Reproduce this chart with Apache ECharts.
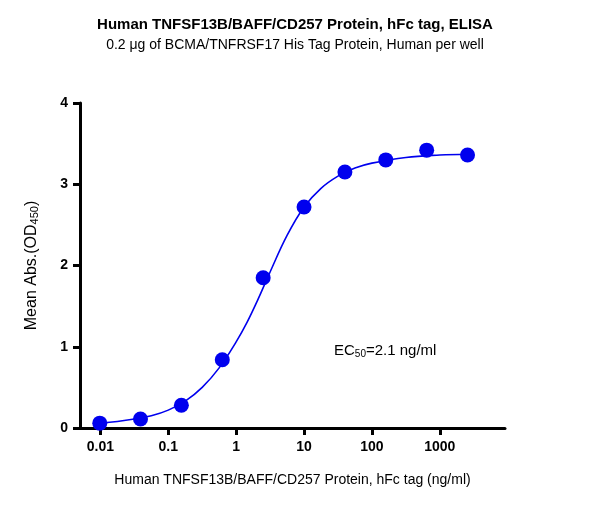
<!DOCTYPE html>
<html><head><meta charset="utf-8">
<script src="https://cdn.jsdelivr.net/npm/echarts@6/dist/echarts.min.js"></script>
<style>html,body{margin:0;padding:0;background:#fff}#c{width:590px;height:507px}</style>
</head><body><div id="c"></div>
<script>
const concentrations = [0.0098, 0.039, 0.156, 0.625, 2.5, 10, 40, 160, 640, 2560];
const absorbance = [0.06, 0.11, 0.28, 0.84, 1.85, 2.72, 3.15, 3.30, 3.42, 3.36];
const curveLogX = [-2.0, -1.75, -1.5, -1.25, -1.0, -0.75, -0.5, -0.25, 0, 0.16, 0.32, 0.5, 0.75, 1.0, 1.25, 1.5, 1.75, 2.0, 2.5, 3.0, 3.4];
const curveY = [0.06, 0.08, 0.11, 0.15, 0.22, 0.33, 0.5, 0.74, 1.06, 1.3, 1.58, 1.92, 2.37, 2.72, 2.95, 3.1, 3.2, 3.26, 3.33, 3.36, 3.37];
const xTicks = [0.01, 0.1, 1, 10, 100, 1000];
const yTicks = [0, 1, 2, 3, 4];
const F = 'Liberation Sans, Arial, sans-serif';
const chart = echarts.init(document.getElementById('c'));
chart.setOption({
  animation: false,
  title: [
    {text: 'Human TNFSF13B/BAFF/CD257 Protein, hFc tag, ELISA', left: 'center', top: 12,
     textStyle: {fontFamily: F, fontSize: 15, fontWeight: 'bold', color: '#000'}},
    {text: '0.2 μg of BCMA/TNFRSF17 His Tag Protein, Human per well', left: 'center', top: 33,
     textStyle: {fontFamily: F, fontSize: 14, fontWeight: 'normal', color: '#000'}}
  ],
  grid: {left: 80, right: 85, top: 103, bottom: 79},
  xAxis: {
    type: 'value', min: -2.3, max: 3.96,
    axisLine: {onZero: false, lineStyle: {color: '#000', width: 3}},
    axisTick: {length: 7, lineStyle: {color: '#000', width: 3}, customValues: xTicks.map(Math.log10)},
    axisLabel: {customValues: xTicks.map(Math.log10), formatter: v => String(xTicks.find(t => Math.abs(Math.log10(t) - v) < 1e-6)),
      color: '#000', fontFamily: F, fontSize: 14, fontWeight: 'bold', margin: 12},
    splitLine: {show: false},
    name: 'Human TNFSF13B/BAFF/CD257 Protein, hFc tag (ng/ml)', nameLocation: 'middle', nameGap: 45,
    nameTextStyle: {fontFamily: F, fontSize: 14, color: '#000'}
  },
  yAxis: {
    type: 'value', min: 0, max: 4, interval: 1,
    axisLine: {show: true, onZero: false, lineStyle: {color: '#000', width: 3}},
    axisTick: {show: true, length: 7, lineStyle: {color: '#000', width: 3}},
    axisLabel: {color: '#000', fontFamily: F, fontSize: 14, fontWeight: 'bold', margin: 12},
    splitLine: {show: false},
    name: '{a|Mean Abs.(OD}{s|450}{a|)}', nameLocation: 'middle', nameGap: 40,
    nameTextStyle: {rich: {a: {fontFamily: F, fontSize: 16, color: '#000', lineHeight: 20, verticalAlign: 'bottom'}, s: {fontFamily: F, fontSize: 11, color: '#000', lineHeight: 20, verticalAlign: 'bottom', padding: [6,0,0,0]}}}
  },
  series: [
    {type: 'line', data: curveLogX.map((x, i) => [x, curveY[i]]), smooth: 0.4, showSymbol: false,
     lineStyle: {color: '#0000ee', width: 1.6}, z: 2},
    {type: 'scatter', data: concentrations.map((c, i) => [Math.log10(c), absorbance[i]]),
     symbolSize: 15, itemStyle: {color: '#0000ee', opacity: 1}, z: 3}
  ],
  graphic: [{type: 'text', left: 334, top: 343,
    style: {text: '{a|EC}{s|50}{a|=2.1 ng/ml}', rich: {a: {fontFamily: F, fontSize: 15, fill: '#000'}, s: {fontFamily: F, fontSize: 10, fill: '#000', padding: [8,0,0,0]}}}}]
});
</script></body></html>
